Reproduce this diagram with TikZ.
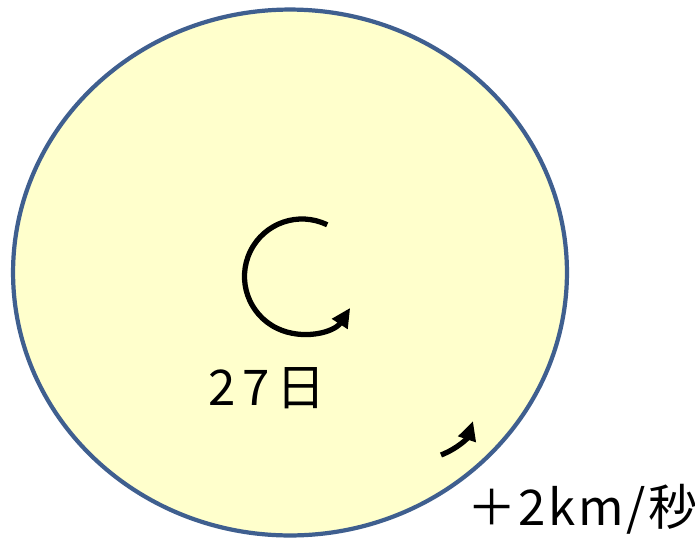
\documentclass[tikz,border=0pt]{standalone}
\usepackage{fontspec}
\newfontfamily\jpfont{Noto Sans CJK JP}
\definecolor{sunyellow}{HTML}{FFFFCC}
\definecolor{sunblue}{HTML}{3F5F8F}
\usepackage{tikz}
\usetikzlibrary{
  positioning, shapes.geometric, arrows.meta, calc
}
\tikzset{
	sunnode/.style={
			shape=ellipse,
			draw=sunblue,
			fill=sunyellow,
			line width=2.4pt,
			minimum width=11.08cm,
			minimum height=10.52cm,
			inner sep=0pt
		},
	spinarrow/.style={
			draw=black,
			line width=3pt,
			-{Triangle[length=11pt,width=10pt]}
		},
	labeltext/.style={
			font=\fontsize{28}{32}\selectfont\jpfont,
			text=black,
			inner sep=0pt
		}
}
\begin{document}
\begin{tikzpicture}[x=0.02cm, y=0.02cm]

  \useasboundingbox (0,0) rectangle (695,539);

  \node[sunnode] (sun) at (290,266.5) {};

  \coordinate (c0) at (302,262.5);
  \draw[spinarrow] ($(c0)+(64:57.5)$) arc[start angle=64, end angle=327, radius=57.5];

  \coordinate (v0) at (441,84);
  \coordinate (v1) at (473,118);
  \draw[spinarrow] (v0) to[bend right=25] (v1);

  \node[labeltext, anchor=base west] (days) at (208,134) {\addfontfeature{LetterSpace=14}27日};
  \node[labeltext, anchor=base west] (speed) at (467,14) {\addfontfeature{LetterSpace=5}＋2km/秒};

\end{tikzpicture}
\end{document}
